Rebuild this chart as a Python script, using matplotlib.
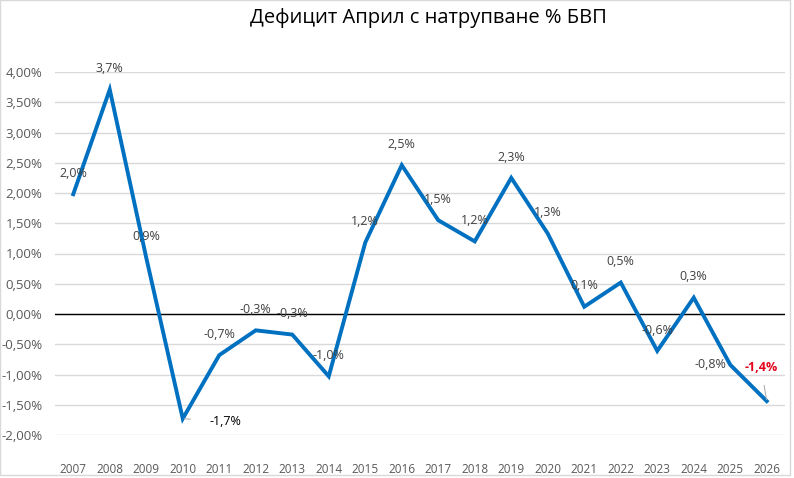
import matplotlib.pyplot as plt
from matplotlib.patches import Rectangle

# data
years = [str(y) for y in range(2007, 2027)]
values = [1.98, 3.71, 0.93, -1.73, -0.68, -0.27, -0.34, -1.03, 1.18, 2.46,
          1.55, 1.20, 2.25, 1.33, 0.12, 0.52, -0.61, 0.27, -0.84, -1.44]
labels = ['2,0%', '3,7%', '0,9%', '-1,7%', '-0,7%', '-0,3%', '-0,3%', '-1,0%', '1,2%', '2,5%',
          '1,5%', '1,2%', '2,3%', '1,3%', '0,1%', '0,5%', '-0,6%', '0,3%', '-0,8%', '-1,4%']
yticks = [-2.0, -1.5, -1.0, -0.5, 0.0, 0.5, 1.0, 1.5, 2.0, 2.5, 3.0, 3.5, 4.0]
title = 'Дефицит Април с натрупване % БВП'

plt.rcParams['font.family'] = ['Open Sans', 'DejaVu Sans']

W, H = 794, 478
fig = plt.figure(figsize=(W / 100, H / 100), dpi=100)
ax = fig.add_axes([55 / W, 1 - 435 / H, 730 / W, (435 - 72) / H])

x = list(range(len(years)))
ax.plot(x, values, color='#0070C0', lw=2.8, solid_joinstyle='miter', zorder=3)
ax.axhline(0, color='black', lw=1, zorder=2)

ax.set_xlim(-0.5, len(years) - 0.5)
ax.set_ylim(-2.0, 4.0)
ax.set_yticks(yticks)
ax.set_yticklabels([f'{v:.2f}%'.replace('.', ',') for v in yticks])
ax.set_xticks(x)
ax.set_xticklabels(years)
ax.grid(axis='y', color='#D9D9D9', lw=1)
ax.set_axisbelow(True)
for s in ax.spines.values():
    s.set_visible(False)
ax.tick_params(axis='both', length=0, colors='#595959')
ax.tick_params(axis='y', pad=9, labelsize=9.5)
ax.tick_params(axis='x', pad=20, labelsize=8.5)

# data labels, mostly above the point
for i, (v, lab) in enumerate(zip(values, labels)):
    if i == 3:
        ax.annotate(lab, (i, v), xytext=(31, -2), textcoords='offset points',
                    ha='center', va='center', fontsize=9, color='black',
                    arrowprops=dict(arrowstyle='-', color='#A6A6A6', lw=0.7, shrinkA=12, shrinkB=1))
    elif i == len(values) - 1:
        ax.annotate(lab, (i, v), xytext=(-4, 24), textcoords='offset points',
                    ha='center', va='center', fontsize=9, color='#E3051B', fontweight='bold',
                    arrowprops=dict(arrowstyle='-', color='#A6A6A6', lw=0.7, shrinkA=6, shrinkB=1))
    elif i == len(values) - 2:
        ax.annotate(lab, (i, v), xytext=(-14, 0), textcoords='offset points',
                    ha='center', va='center', fontsize=9, color='#404040')
    else:
        ax.annotate(lab, (i, v), xytext=(0, 15), textcoords='offset points',
                    ha='center', va='center', fontsize=9, color='#404040')

fig.text(428 / W, 1 - 18 / H, title, ha='center', va='center', fontsize=14.5, color='black')

# light chart border
fig.add_artist(Rectangle((0, 1 - 475 / H), 790 / W, 475 / H, transform=fig.transFigure,
                         fill=False, edgecolor='#D9D9D9', lw=1))

fig.savefig('out.png', dpi=100)
